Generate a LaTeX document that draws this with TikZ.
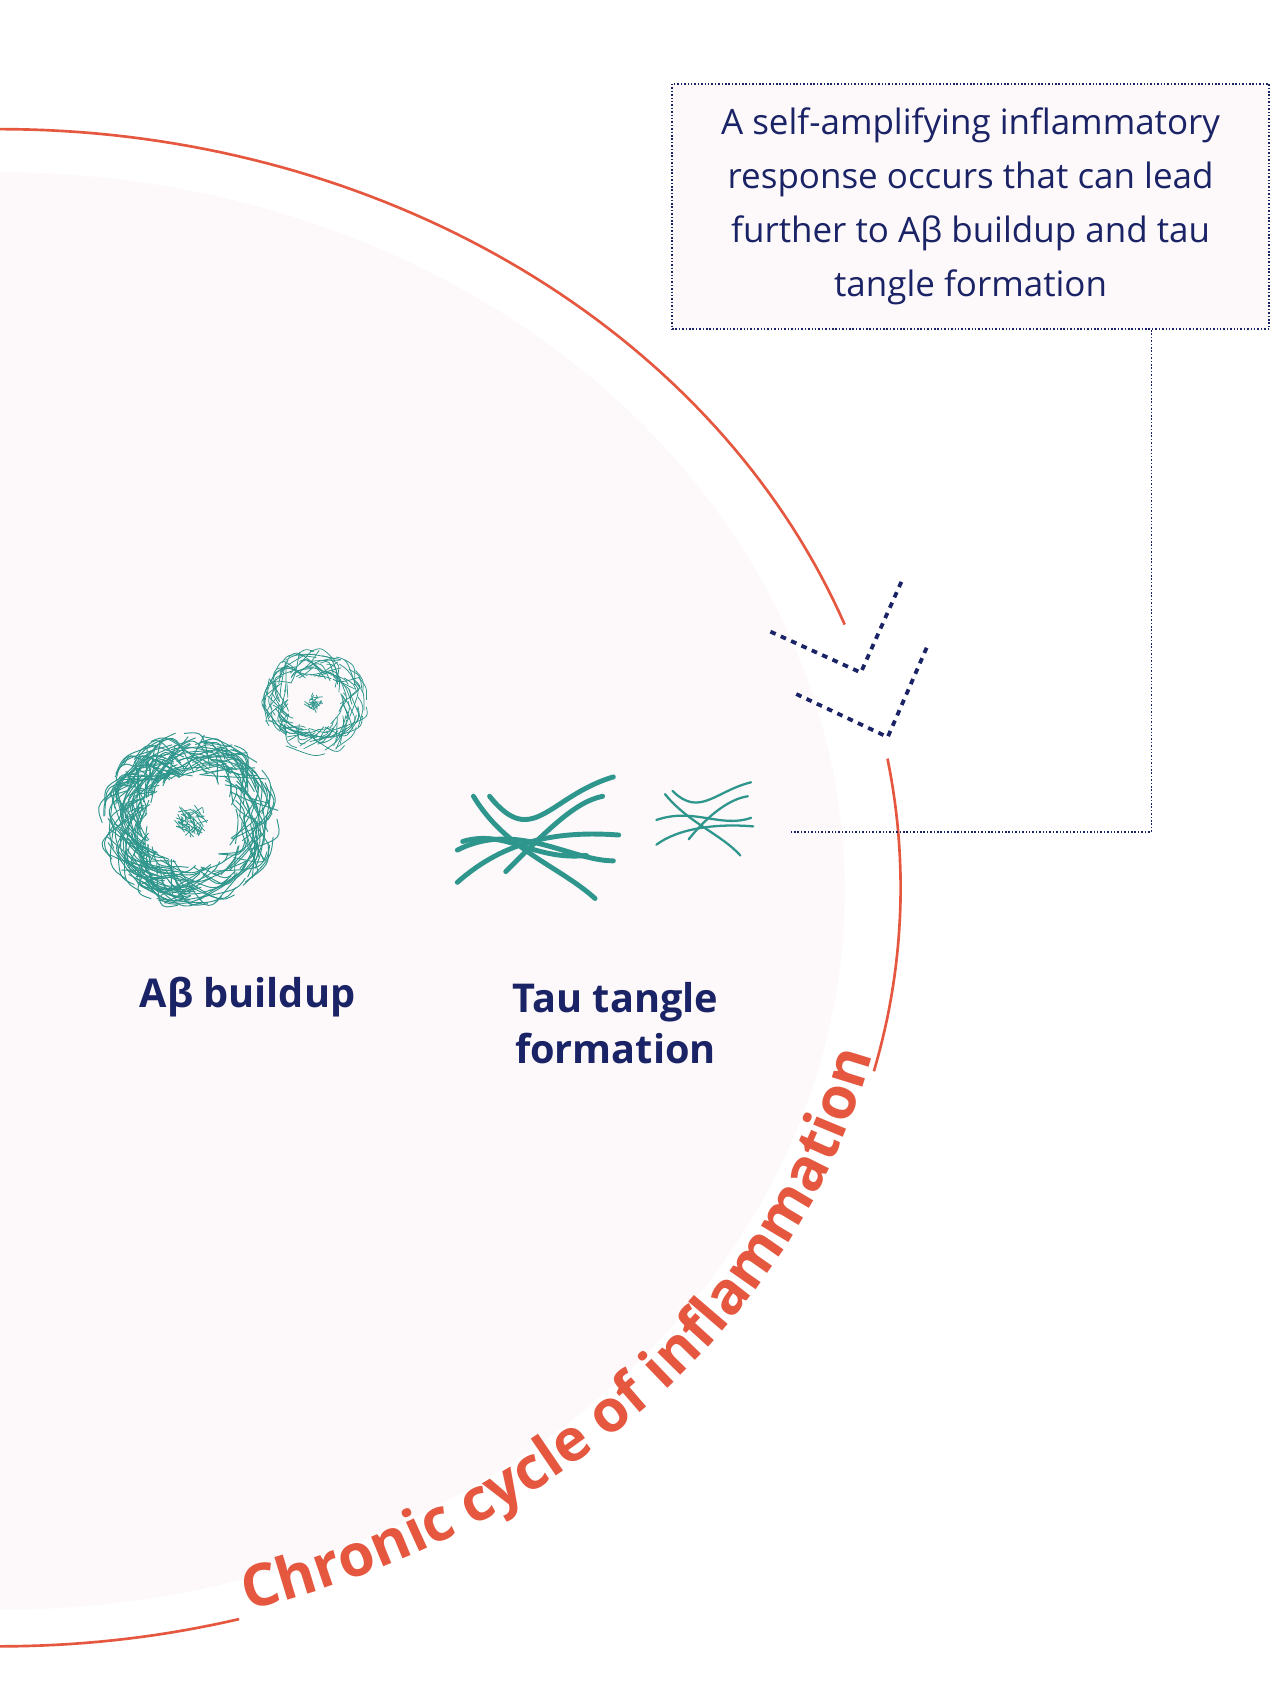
\documentclass[tikz,border=0pt]{standalone}
\usepackage{fontspec}
\setmainfont{Open Sans}
\usetikzlibrary{calc,decorations.text}
\definecolor{navy}{HTML}{1A2366}
\definecolor{flame}{HTML}{E5573F}
\definecolor{teal}{HTML}{2E968C}
\definecolor{blush}{HTML}{FDF8F9}
\tikzset{
  fiber/.style={teal,line width=0.5pt},
  tau/.style={teal,line width=2.6pt,line cap=round},
  tauthin/.style={teal,line width=1.2pt,line cap=round},
  rim/.style={flame,line width=1.4pt},
  guide/.style={navy,densely dotted,line width=0.8pt},
  chevron/.style={navy,dash pattern=on 3pt off 3pt,line width=2pt},
  caption/.style={navy,font=\fontsize{21}{27}\selectfont\bfseries,align=center}
}
\begin{document}
\begin{tikzpicture}[x=0.02cm,y=-0.02cm]
  \useasboundingbox (0,0) rectangle (1190,1578);
  \fill[white] (0,0) rectangle (1190,1578);
  % inner disc and outer rim
  \fill[blush] plot[domain=-100:100,samples=120] ({785*cos(\x)},{828-668*sin(\x)});
  \draw[rim] plot[domain=-110:-74.6,samples=40] ({837*cos(\x)},{825-705*sin(\x)});
  \draw[rim] plot[domain=-14:9.8,samples=30] ({837*cos(\x)},{825-705*sin(\x)});
  \draw[rim] plot[domain=20.3:100,samples=80] ({837*cos(\x)},{825-705*sin(\x)});
  \path[decorate,decoration={text along path,text align=center,
    text={|\color{flame}\fontsize{31}{31}\selectfont\bfseries|Chronic cycle of inflammation}}]
    plot[domain=-73.5:-13.5,samples=80] ({832*cos(\x)},{822-702*sin(\x)});

  % note box and connector
  \node[draw=navy,densely dotted,line width=0.8pt,fill=blush,minimum width=11.1cm,minimum height=4.56cm,
        align=center,text=navy,font=\fontsize{18.5}{28.5}\selectfont]
        (note) at (902,192) {A self-amplifying inflammatory\\response occurs that can lead\\further to Aβ buildup and tau\\tangle formation};
  \coordinate (turn) at (1070,773);
  \coordinate (tip) at (735,773);
  \draw[guide] (note.south -| turn) -- (turn) -- (tip);

  % arrows
  \coordinate (c1a) at (716,587); \coordinate (c1b) at (800,625); \coordinate (c1c) at (838,540);
  \coordinate (c2a) at (740,645); \coordinate (c2b) at (825,685); \coordinate (c2c) at (862,600);
  \draw[chevron] (c1a) -- (c1b) -- (c1c);
  \draw[chevron] (c2a) -- (c2b) -- (c2c);

  % plaques
  \coordinate (big) at (177,762);
  \coordinate (small) at (292,653);
  \pgfmathsetseed{7}
  \foreach \i in {1,...,300}{
    \pgfmathsetmacro\a{360*rnd}\pgfmathsetmacro\r{40+42*rnd}
    \pgfmathsetmacro\b{\a+20+30*rnd}\pgfmathsetmacro\s{40+42*rnd}
    \draw[fiber] ($(big)+(\a:\r)$) .. controls ($(big)+(\a+12:\r+10*rnd)$) .. ($(big)+(\b:\s)$);
  }
  \foreach \i in {1,...,60}{
    \pgfmathsetmacro\a{360*rnd}\pgfmathsetmacro\r{17*rnd}\pgfmathsetmacro\b{\a+90*rnd}\pgfmathsetmacro\s{17*rnd}
    \draw[fiber,line width=0.4pt] ($(big)+(\a:\r)$) -- ($(big)+(\b:\s)$);
  }
  \foreach \i in {1,...,150}{
    \pgfmathsetmacro\a{360*rnd}\pgfmathsetmacro\r{24+25*rnd}
    \pgfmathsetmacro\b{\a+20+30*rnd}\pgfmathsetmacro\s{24+25*rnd}
    \draw[fiber,line width=0.4pt] ($(small)+(\a:\r)$) .. controls ($(small)+(\a+12:\r+6*rnd)$) .. ($(small)+(\b:\s)$);
  }
  \foreach \i in {1,...,35}{
    \pgfmathsetmacro\a{360*rnd}\pgfmathsetmacro\r{10*rnd}\pgfmathsetmacro\b{\a+90*rnd}\pgfmathsetmacro\s{10*rnd}
    \draw[fiber,line width=0.4pt] ($(small)+(\a:\r)$) -- ($(small)+(\b:\s)$);
  }

  % tau tangles
  \draw[tau] (425,820) .. controls (470,780) and (520,772) .. (575,776);
  \draw[tau] (440,740) .. controls (470,790) and (520,805) .. (553,835);
  \draw[tau] (425,790) .. controls (480,762) and (530,800) .. (570,800);
  \draw[tau] (455,740) .. controls (495,790) and (510,740) .. (570,722);
  \draw[tau] (430,782) .. controls (470,770) and (495,800) .. (545,795);
  \draw[tau] (470,810) .. controls (510,770) and (535,745) .. (560,740);
  \draw[tauthin] (610,785) .. controls (630,770) and (665,765) .. (700,768);
  \draw[tauthin] (618,738) .. controls (640,765) and (670,775) .. (688,795);
  \draw[tauthin] (610,762) .. controls (645,750) and (670,770) .. (698,760);
  \draw[tauthin] (625,735) .. controls (650,760) and (665,735) .. (698,727);
  \draw[tauthin] (640,780) .. controls (660,755) and (680,742) .. (695,740);

  % captions
  \node[caption] (abeta) at (230,927) {Aβ buildup};
  \node[caption] (tangle) at (572,951) {Tau tangle\\formation};
\end{tikzpicture}
\end{document}
